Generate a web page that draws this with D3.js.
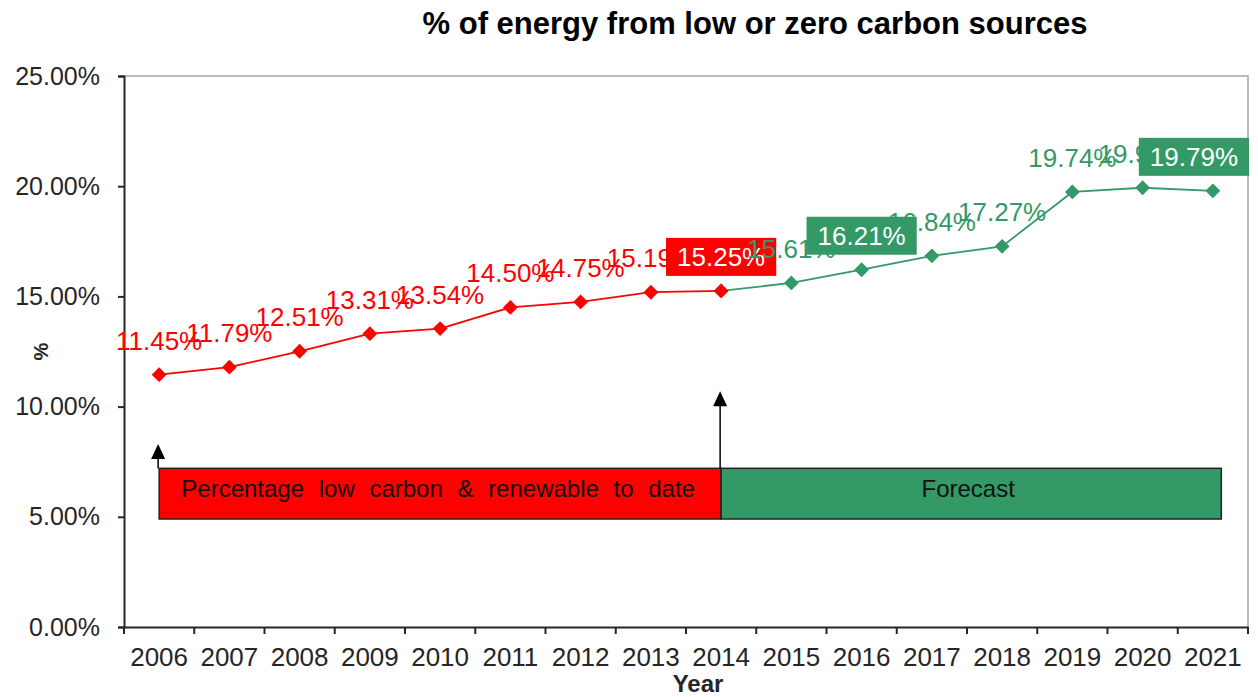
<!DOCTYPE html>
<html>
<head>
<meta charset="utf-8">
<script src="https://cdn.jsdelivr.net/npm/d3@7"></script>
<style>
  body { margin: 0; background: #fff; }
  svg { font-family: "Liberation Sans", Arial, sans-serif; }
</style>
</head>
<body>
<div id="chart"></div>
<script>
// chart values
const years = ['2006', '2007', '2008', '2009', '2010', '2011', '2012', '2013',
  '2014', '2015', '2016', '2017', '2018', '2019', '2020', '2021'];
const actualYears = years.slice(0, 9);
const actualValues = [11.45, 11.79, 12.51, 13.31, 13.54, 14.50, 14.75, 15.19, 15.25];
const forecastYears = years.slice(8);
const forecastValues = [15.25, 15.61, 16.21, 16.84, 17.27, 19.74, 19.93, 19.79];
const yTicks = [0, 5, 10, 15, 20, 25];
const boxedActual = ['2014'];
const boxedForecast = ['2016', '2021'];

const width = 1258;
const height = 697;
const margin = { top: 76, right: 10, bottom: 70, left: 124 };
const red = '#ff0000';
const green = '#339966';

const svg = d3.select('#chart').append('svg')
  .attr('width', width)
  .attr('height', height);

const x = d3.scaleBand()
  .domain(years)
  .range([margin.left, width - margin.right])
  .padding(0);
const y = d3.scaleLinear()
  .domain([0, 25])
  .range([height - margin.bottom, margin.top]);
const cx = d => x(d) + x.bandwidth() / 2;
const x0 = margin.left;
const x1 = width - margin.right;

// plot border (top/right grey)
svg.append('path')
  .attr('d', `M${x0},${y(25)}H${x1}V${y(0)}`)
  .attr('fill', 'none')
  .attr('stroke', '#a6a6a6')
  .attr('stroke-width', 1.5);

// y axis
const yAxis = svg.append('g')
  .attr('transform', `translate(${x0},0)`)
  .call(d3.axisLeft(y).tickValues(yTicks).tickSize(6).tickPadding(18)
    .tickFormat(d => d.toFixed(2) + '%'));
yAxis.selectAll('text').attr('font-size', 25).attr('fill', '#262626')
  .attr('font-family', '"Liberation Sans", Arial, sans-serif');
yAxis.selectAll('line, path').attr('stroke', '#262626').attr('stroke-width', 2);

// x axis: labels at centres, ticks at band edges
const xAxis = svg.append('g')
  .attr('transform', `translate(0,${y(0)})`)
  .call(d3.axisBottom(x).tickSize(0).tickPadding(21));
xAxis.selectAll('text').attr('font-size', 26).attr('fill', '#262626')
  .attr('font-family', '"Liberation Sans", Arial, sans-serif');
xAxis.select('.domain').attr('stroke', '#262626').attr('stroke-width', 2);
xAxis.selectAll('.edge')
  .data(years.map(d => x(d)).concat([x1]))
  .enter().append('line')
  .attr('class', 'edge')
  .attr('x1', d => d).attr('x2', d => d)
  .attr('y1', 0).attr('y2', 7)
  .attr('stroke', '#262626').attr('stroke-width', 2);

// title and axis titles
svg.append('text')
  .attr('x', 755).attr('y', 34)
  .attr('text-anchor', 'middle')
  .attr('font-size', 31).attr('font-weight', 'bold')
  .text('% of energy from low or zero carbon sources');
svg.append('text')
  .attr('x', 698).attr('y', 692)
  .attr('text-anchor', 'middle')
  .attr('font-size', 24).attr('font-weight', 'bold').attr('fill', '#262626')
  .text('Year');
svg.append('text')
  .attr('transform', `translate(48,${(y(0) + y(25)) / 2}) rotate(-90)`)
  .attr('text-anchor', 'middle')
  .attr('font-size', 20).attr('font-weight', 'bold').attr('fill', '#262626')
  .text('%');

// annotation bands
const bandTop = y(7.2);
const bandBottom = y(4.9);
const bandEnd = cx('2021') + x.bandwidth() * 0.12;
svg.append('rect')
  .attr('x', cx('2006')).attr('y', bandTop)
  .attr('width', cx('2014') - cx('2006')).attr('height', bandBottom - bandTop)
  .attr('fill', red).attr('stroke', '#222').attr('stroke-width', 1.5);
svg.append('rect')
  .attr('x', cx('2014')).attr('y', bandTop)
  .attr('width', bandEnd - cx('2014')).attr('height', bandBottom - bandTop)
  .attr('fill', green).attr('stroke', '#222').attr('stroke-width', 1.5);
svg.append('text')
  .attr('x', (cx('2006') + cx('2014')) / 2 - 2).attr('y', bandTop + 29)
  .attr('text-anchor', 'middle').attr('font-size', 24).attr('fill', '#111')
  .attr('word-spacing', 8)
  .text('Percentage low carbon & renewable to date');
svg.append('text')
  .attr('x', (cx('2014') + bandEnd) / 2 - 3).attr('y', bandTop + 29)
  .attr('text-anchor', 'middle').attr('font-size', 24).attr('fill', '#111')
  .text('Forecast');

// arrows
const arrows = [{ year: '2006', tip: 8.3 }, { year: '2014', tip: 10.7 }];
arrows.forEach(a => {
  const ax = cx(a.year) - 1;
  svg.append('line')
    .attr('x1', ax).attr('x2', ax)
    .attr('y1', bandTop).attr('y2', y(a.tip) + 8)
    .attr('stroke', '#000').attr('stroke-width', 1.5);
  svg.append('path')
    .attr('d', `M${ax},${y(a.tip)}l-7,15h14z`)
    .attr('fill', '#000');
});

// lines and markers
const line = d3.line().x(d => cx(d.year)).y(d => y(d.value));
const actual = actualYears.map((d, i) => ({ year: d, value: actualValues[i] }));
const forecast = forecastYears.map((d, i) => ({ year: d, value: forecastValues[i] }));

function drawSeries(data, color) {
  svg.append('path')
    .datum(data)
    .attr('d', line)
    .attr('fill', 'none')
    .attr('stroke', color)
    .attr('stroke-width', 1.8);
  svg.selectAll(null)
    .data(data)
    .enter().append('path')
    .attr('d', d3.symbol(d3.symbolSquare, 110))
    .attr('transform', d => `translate(${cx(d.year)},${y(d.value)}) rotate(45)`)
    .attr('fill', color);
}
drawSeries(forecast, green);
drawSeries(actual, red);

function drawLabels(data, color, boxed) {
  const fmt = d => d.value.toFixed(2) + '%';
  svg.selectAll(null)
    .data(data.filter(d => !boxed.includes(d.year)))
    .enter().append('text')
    .attr('x', d => cx(d.year))
    .attr('y', d => y(d.value) - 25)
    .attr('text-anchor', 'middle')
    .attr('font-size', 26)
    .attr('fill', color)
    .text(fmt);
  data.filter(d => boxed.includes(d.year)).forEach(d => {
    const g = svg.append('g');
    const t = g.append('text')
      .attr('y', y(d.value) - 25)
      .attr('text-anchor', 'middle')
      .attr('font-size', 26)
      .attr('fill', '#fff')
      .text(fmt(d));
    const w = t.node().getComputedTextLength() + 22;
    const left = Math.min(cx(d.year) - w / 2, x1 + 1 - w);
    t.attr('x', left + w / 2);
    g.insert('rect', 'text')
      .attr('x', left).attr('y', y(d.value) - 53)
      .attr('width', w).attr('height', 38)
      .attr('fill', color);
  });
}
drawLabels(actual, red, boxedActual);
drawLabels(forecast.slice(1), green, boxedForecast);
</script>
</body>
</html>
